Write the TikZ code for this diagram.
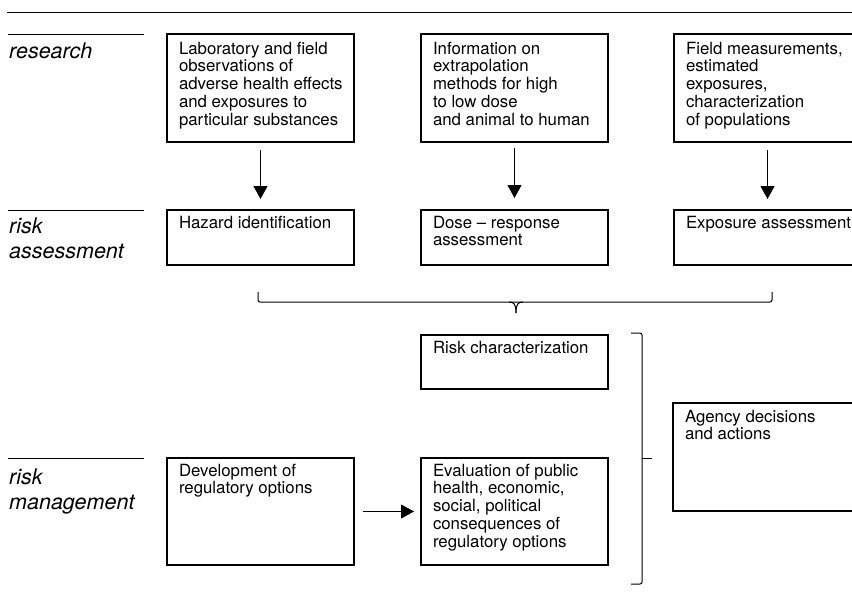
\documentclass[tikz,border=0pt]{standalone}
\usepackage{fontspec}
\setmainfont{TeX Gyre Heros}
\usetikzlibrary{arrows.meta}
\newcommand\bxt[4]{\parbox[c][#2][t]{#1}{\raggedright\leftskip=12pt\relax\fontsize{16.8}{17.8}\selectfont\rule{0pt}{#3}#4}}
\newcommand\lbl[1]{\parbox[t]{140pt}{\raggedright\fontsize{21.5}{25}\selectfont\itshape #1}}
\tikzset{
  boxnode/.style={draw, line width=1.3pt, inner sep=0pt, outer sep=0pt, anchor=north west},
  rule/.style={line width=1pt},
  arr/.style={line width=1pt, -{Triangle[width=14pt,length=13pt]}},
  lblnode/.style={anchor=base west, inner sep=0pt}
}
\begin{document}
\begin{tikzpicture}[x=1pt,y=-1pt]
\useasboundingbox (0,0) rectangle (852,592);
% rules and row labels
\draw[rule] (7,12) -- (860,12);
\draw[rule] (8,34) -- (144,34);
\draw[rule] (8,210) -- (144,210);
\draw[rule] (8,458) -- (144,458);
\node[lblnode] (lres) at (9,58) {\lbl{research}};
\node[lblnode] (lass) at (9,233) {\lbl{risk\\assessment}};
\node[lblnode] (lman) at (9,484) {\lbl{risk\\management}};
% research boxes
\node[boxnode] (b1) at (167,34) {\bxt{187pt}{108pt}{20pt}{Laboratory and field\\observations of\\adverse health effects\\and exposures to\\particular substances}};
\node[boxnode] (b2) at (421,34) {\bxt{187pt}{108pt}{20pt}{Information on\\extrapolation\\methods for high\\to low dose\\and animal to human}};
\node[boxnode] (b3) at (674,34) {\bxt{187pt}{108pt}{20pt}{Field measurements,\\estimated\\exposures,\\characterization\\of populations}};
% risk assessment boxes
\node[boxnode] (h1) at (167,210) {\bxt{187pt}{55pt}{18pt}{Hazard identification}};
\node[boxnode] (h2) at (421,210) {\bxt{187pt}{55pt}{18pt}{Dose -- response\\assessment}};
\node[boxnode] (h3) at (674,210) {\bxt{187pt}{55pt}{18pt}{Exposure assessment}};
% risk characterization etc.
\node[boxnode] (rc) at (421,335) {\bxt{187pt}{54pt}{18pt}{Risk characterization}};
\node[boxnode] (dev) at (167,458) {\bxt{187pt}{107pt}{18pt}{Development of\\regulatory options}};
\node[boxnode] (ev) at (421,458) {\bxt{187pt}{107pt}{18pt}{Evaluation of public\\health, economic,\\social, political\\consequences of\\regulatory options}};
\node[boxnode] (ag) at (673,403) {\bxt{187pt}{108pt}{19pt}{Agency decisions\\and actions}};
% arrows
\draw[arr] ([yshift=-8pt]b1.south) -- ([yshift=11pt]h1.north);
\draw[arr] ([yshift=-6pt]b2.south) -- ([yshift=12pt]h2.north);
\draw[arr] ([yshift=-8pt]b3.south) -- ([yshift=11pt]h3.north);
\draw[arr] ([xshift=9pt]dev.east) -- ([xshift=-7pt]ev.west);
% brace under assessment row
\coordinate (bl) at (258,292);
\coordinate (br) at (772,292);
\coordinate (bm) at (516,313);
\draw[rule, rounded corners=2pt] (bl) -- (258,302) -- (772,302) -- (br);
\draw[rule] (509,302) .. controls (514,302) and (516,304) .. (bm);
\draw[rule] (523,302) .. controls (518,302) and (516,304) .. (bm);
% bracket to agency decisions
\coordinate (kt) at (631,333);
\coordinate (kb) at (631,584);
\coordinate (km) at (652,458);
\draw[rule, rounded corners=2pt] (kt) -- (642,333) -- (642,584) -- (kb);
\draw[rule] (642,458) -- (km);
\end{tikzpicture}
\end{document}
